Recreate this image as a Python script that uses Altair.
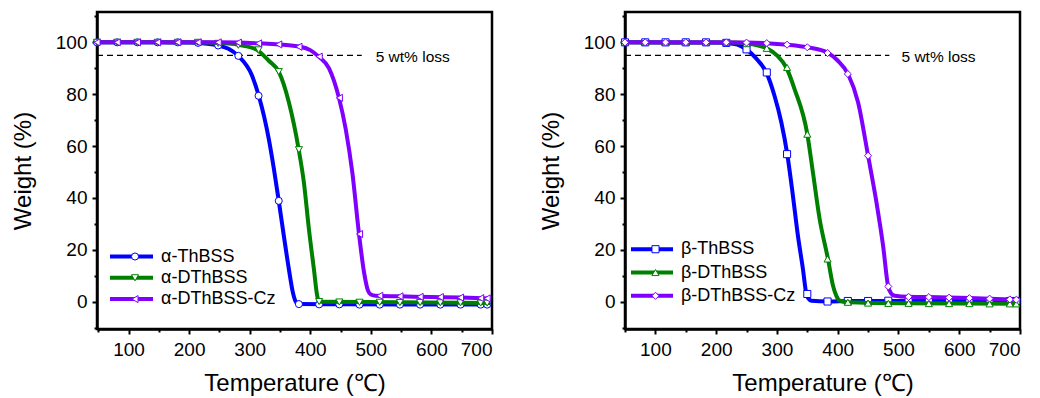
import altair as alt
import pandas as pd

# ---------------- data ----------------
# left panel (alpha series)
a_names = ["α-ThBSS", "α-DThBSS", "α-DThBSS-Cz"]
a_line_T = [
    [48, 150, 200, 220, 248, 265, 281, 304, 315, 331.6, 340, 348, 356.4, 364.7, 371.3, 375.7, 381, 450, 550, 697],
    [48, 200, 260, 290, 312, 331.6, 348, 364.7, 381, 389.5, 397.8, 406, 411.5, 414, 418, 550, 697],
    [48, 250, 282, 315, 348, 384, 400, 414, 431, 447.4, 458.5, 469.4, 480.5, 488.8, 495, 500, 508, 548, 600, 650, 697],
]
a_line_W = [
    [100, 100, 99.9, 99.7, 98.8, 97.5, 94.8, 87.1, 79.4, 62.7, 51.2, 38.9, 25.4, 12.6, 3.6, 0.2, -0.9, -1.0, -1.1, -1.1],
    [100, 100, 99.7, 98.7, 97.1, 92.9, 88.7, 76.9, 58.6, 46, 28, 12.6, 2.3, 0.2, 0, -0.2, -0.5],
    [100, 100, 99.9, 99.6, 99.2, 98.3, 97, 94.5, 90, 78.6, 66.6, 49.9, 26.1, 11.3, 4.5, 2.8, 2.3, 2.1, 1.8, 1.6, 1.3],
]
a_mark_T = [48, 81.3, 114.7, 148, 181.3, 214.7, 248, 281.3, 314.7, 348, 381.3, 414.7,
            448, 481.3, 514.7, 548, 581.3, 614.7, 648, 681.3, 692]
a_mark_W = [
    [100, 100, 100, 100, 100, 99.8, 98.8, 94.8, 79.4, 38.9, -0.9, -1.0, -1.0, -1.1, -1.1, -1.1, -1.1, -1.1, -1.1, -1.1, -1.1],
    [100, 100, 100, 100, 100, 100, 99.6, 98.9, 97.1, 88.7, 58.6, 0.1, -0.1, -0.2, -0.2, -0.3, -0.3, -0.4, -0.4, -0.5, -0.5],
    [100, 100, 100, 100, 100, 100, 100, 99.9, 99.6, 99.2, 98.3, 94.5, 78.6, 26.1, 2.3, 2.1, 1.9, 1.8, 1.6, 1.4, 1.3],
]
a_shapes = ["circle", "triangle-down", "triangle-left"]

# right panel (beta series)
b_names = ["β-ThBSS", "β-DThBSS", "β-DThBSS-Cz"]
b_line_T = [
    [50, 200, 230, 250, 265, 282.5, 296, 307.2, 317, 326.3, 334.6, 342.8, 348.4, 352, 356.6, 384, 420, 697],
    [50, 230, 260, 283, 300, 315.4, 329, 350, 359.2, 370.3, 384, 392.3, 398, 403.3, 417, 500, 697],
    [50, 250, 283, 317, 350, 384, 400, 417, 433.5, 450, 463.8, 474.7, 483, 488, 494, 516, 550, 600, 650, 697],
]
b_line_W = [
    [100, 99.9, 99.4, 97.3, 94, 88.4, 79.4, 69.2, 56.9, 40.9, 25.4, 12.6, 3.0, 1.2, 0.4, 0.1, 0.3, 0.3],
    [100, 99.9, 99.3, 97.7, 95, 90.3, 82, 64.6, 49.9, 31.9, 16.5, 6.2, 2.2, 0.4, -0.2, -0.6, -0.8],
    [100, 99.9, 99.7, 99.1, 98.1, 95.9, 93, 87.8, 76.9, 56.3, 38.3, 21.6, 5.9, 3.2, 2.3, 1.9, 1.8, 1.5, 1.2, 0.8],
]
b_mark_T = [50, 83.3, 116.7, 150, 183.3, 216.7, 250, 283.3, 316.7, 350, 383.3, 416.7,
            450, 483.3, 516.7, 550, 583.3, 616.7, 650, 683.3, 694]
b_mark_W = [
    [100, 100, 100, 100, 100, 99.8, 97.3, 88.4, 56.9, 3.0, 0.1, 0.3, 0.3, 0.4, 0.4, 0.4, 0.4, 0.3, 0.3, 0.3, 0.3],
    [100, 100, 100, 100, 100, 100, 99.5, 97.7, 90.3, 64.6, 16.5, -0.2, -0.5, -0.6, -0.6, -0.7, -0.7, -0.7, -0.8, -0.8, -0.8],
    [100, 100, 100, 100, 100, 100, 99.9, 99.7, 99.1, 98.1, 95.9, 87.8, 56.3, 5.9, 1.9, 1.8, 1.6, 1.4, 1.2, 0.9, 0.8],
]
b_shapes = ["square", "triangle-up", "diamond"]

colors = ["#0000FF", "#008000", "#8000FF"]
loss_level = 95
loss_x = [[48, 485], [50, 485]]
loss_text_x = [508, 505]
x_domains = [[48, 700], [50, 700]]
y_domain = [-10.5, 111.7]
x_major = [100, 200, 300, 400, 500, 600, 700]
x_minor = [50, 150, 250, 350, 450, 550, 650]
y_major = [0, 20, 40, 60, 80, 100]
y_minor = [-10, 10, 30, 50, 70, 90, 110]

FONT = "Arial"
W, H = 395, 317


def panel(names, line_T, line_W, mark_T, mark_W, shapes, xdom, lx, ltx, legA, legB):
    lines = pd.DataFrame([
        {"series": n, "T": t, "W": w}
        for n, ts, ws in zip(names, line_T, line_W) for t, w in zip(ts, ws)
    ])
    marks = pd.DataFrame([
        {"mseries": n, "T": t, "W": w}
        for n, ws in zip(names, mark_W) for t, w in zip(mark_T, ws)
    ])
    xs = alt.Scale(domain=xdom, nice=False, zero=False)
    ys = alt.Scale(domain=y_domain, nice=False, zero=False)
    x_main = alt.Axis(values=x_major, tickSize=5, title="Temperature (℃)",
                      grid=False, labelOverlap=False, orient="bottom")
    y_main = alt.Axis(values=y_major, tickSize=5, title="Weight (%)",
                      grid=False, labelOverlap=False, orient="left")
    x_min = alt.Axis(values=x_minor, tickSize=3, labels=False, domain=False,
                     title=None, grid=False, orient="bottom")
    y_min = alt.Axis(values=y_minor, tickSize=3, labels=False, domain=False,
                     title=None, grid=False, orient="left")

    # dashed 5 wt% loss line (also carries the minor ticks)
    rule_df = pd.DataFrame({"x": [lx[0]], "x2": [lx[1]], "y": [loss_level]})
    rule = alt.Chart(rule_df).mark_rule(
        color="black", strokeWidth=1.3, strokeDash=[6, 4]
    ).encode(
        x=alt.X("x:Q", scale=xs, axis=x_min),
        x2="x2:Q",
        y=alt.Y("y:Q", scale=ys, axis=y_min),
    )
    txt_df = pd.DataFrame({"x": [ltx], "y": [loss_level], "t": ["5 wt% loss"]})
    txt = alt.Chart(txt_df).mark_text(
        align="left", baseline="middle", fontSize=15.5, font=FONT, color="black", dy=2
    ).encode(x=alt.X("x:Q", axis=None), y=alt.Y("y:Q", axis=None), text="t:N")

    base_l = alt.Chart(lines)
    base_m = alt.Chart(marks)
    layers = []
    for i, n in enumerate(names):
        ln = base_l.transform_filter(alt.datum.series == n).mark_line(
            strokeWidth=4, interpolate="monotone"
        ).encode(
            x=alt.X("T:Q", axis=x_main if i == 0 else None),
            y=alt.Y("W:Q", axis=y_main if i == 0 else None),
            color=alt.Color("series:N", sort=names,
                            scale=alt.Scale(range=colors), legend=legA),
        )
        pt = base_m.transform_filter(alt.datum.mseries == n).mark_point(
            filled=True, fill="white", size=50, strokeWidth=1, opacity=1
        ).encode(
            x=alt.X("T:Q", axis=None), y=alt.Y("W:Q", axis=None),
            stroke=alt.Stroke("mseries:N",
                              scale=alt.Scale(domain=names, range=colors), legend=legB),
            shape=alt.Shape("mseries:N",
                            scale=alt.Scale(domain=names, range=shapes), legend=legB),
        )
        layers += [ln, pt]
    return alt.layer(rule, txt, *layers).properties(width=W, height=H).resolve_scale(
        color="shared", stroke="shared", shape="shared", x="shared", y="shared"
    ).resolve_axis(x="independent", y="independent")


def legends(x, y, rowpad, loff, linelen):
    legA = alt.Legend(title=None, orient="none", legendX=x, legendY=y,
                      symbolType="stroke", symbolSize=linelen * linelen,
                      symbolStrokeWidth=4, labelFontSize=18, labelFont=FONT,
                      labelColor="black", clipHeight=19, rowPadding=rowpad,
                      labelOffset=loff, symbolOpacity=1)
    legB = alt.Legend(title=None, orient="none", legendX=x + linelen / 2 - 3.5, legendY=y,
                      symbolSize=50, symbolStrokeWidth=1, symbolFillColor="white",
                      labelFontSize=18, labelFont=FONT, labelExpr="''",
                      clipHeight=19, rowPadding=rowpad, symbolOpacity=1)
    return legA, legB


la, lb = legends(11, 235, 2.3, 6, 43)
left = panel(a_names, a_line_T, a_line_W, a_mark_T, a_mark_W, a_shapes,
             x_domains[0], loss_x[0], loss_text_x[0], la, lb)
ra, rb = legends(4, 227.7, 4.3, 6, 42)
right = panel(b_names, b_line_T, b_line_W, b_mark_T, b_mark_W, b_shapes,
              x_domains[1], loss_x[1], loss_text_x[1], ra, rb)

chart = alt.hconcat(left, right, spacing=133, bounds="flush").resolve_scale(
    color="independent", stroke="independent", shape="independent"
).properties(
    padding={"left": 10, "top": 10, "right": 0, "bottom": 0}
).configure_view(
    stroke="black", strokeWidth=2.5
).configure_axis(
    domainColor="black", domainWidth=2.5, tickColor="black", tickWidth=2,
    labelFont=FONT, labelFontSize=19, labelColor="black",
    titleFont=FONT, titleFontSize=24, titleColor="black", titleFontWeight="normal",
    labelPadding=6,
).configure_axisY(titlePadding=20, labelPadding=5).configure_axisX(titlePadding=12)

chart.save("out.html", embed_options={"renderer": "svg", "actions": False})
